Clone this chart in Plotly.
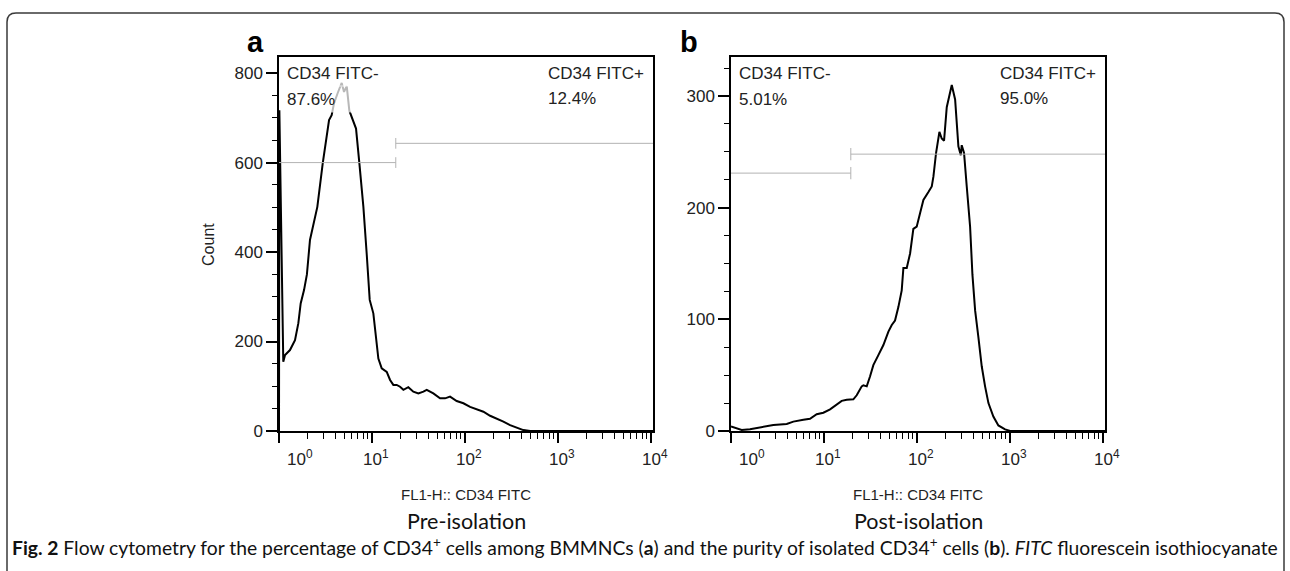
import plotly.graph_objects as go

# ------------------------------------------------------------------ data
panel_letters = ["a", "b"]
panel_titles = ["Pre-isolation", "Post-isolation"]
x_title = "FL1-H:: CD34 FITC"
y_title = "Count"
caption = ("<b>Fig. 2</b> Flow cytometry for the percentage of CD34<sup>+</sup> cells among BMMNCs "
           "(<b>a</b>) and the purity of isolated CD34<sup>+</sup> cells (<b>b</b>). "
           "<i>FITC</i> fluorescein isothiocyanate")

# FL1-H intensity given as log10 decade position, counts per channel
pre_log_fl1 = [0.0, 0.004, 0.046, 0.065, 0.118, 0.172, 0.208, 0.233, 0.269, 0.300, 0.333,
               0.412, 0.470, 0.513, 0.538, 0.566, 0.591, 0.630, 0.674, 0.699, 0.728, 0.756,
               0.800, 0.828, 0.864, 0.907, 0.943, 0.961, 0.975, 1.014, 1.043, 1.068, 1.104,
               1.158, 1.194, 1.229, 1.265, 1.301, 1.337, 1.390, 1.444, 1.498, 1.552, 1.588,
               1.659, 1.731, 1.785, 1.839, 1.910, 1.982, 2.054, 2.125, 2.197, 2.269, 2.341,
               2.412, 2.484, 2.556, 2.627, 2.700, 4.020]
pre_count = [0, 717, 155, 170, 181, 203, 241, 285, 315, 350, 427,
             501, 598, 665, 695, 706, 732, 755, 778, 758, 771, 716,
             691, 676, 598, 501, 395, 330, 293, 263, 211, 162, 140,
             132, 114, 103, 103, 99, 92, 98, 88, 84, 88, 92,
             84, 73, 73, 77, 67, 62, 54, 48, 43, 34, 28,
             21, 13, 7, 2, 0, 0]

post_log_fl1 = [0.0, 0.061, 0.115, 0.204, 0.312, 0.384, 0.455, 0.599, 0.670, 0.778, 0.849,
                0.921, 0.993, 1.065, 1.136, 1.190, 1.244, 1.315, 1.351, 1.405, 1.423, 1.459,
                1.495, 1.530, 1.584, 1.638, 1.692, 1.728, 1.763, 1.799, 1.835, 1.853, 1.889,
                1.925, 1.960, 1.996, 2.032, 2.068, 2.122, 2.158, 2.176, 2.204, 2.240, 2.265,
                2.290, 2.319, 2.373, 2.409, 2.444, 2.470, 2.480, 2.505, 2.534, 2.570, 2.595,
                2.624, 2.659, 2.695, 2.731, 2.767, 2.820, 2.874, 2.946, 3.000, 4.020]
post_count = [4, 2.4, 1, 1.5, 3.3, 4, 5.4, 6.3, 8.4, 10, 11,
              15, 16.4, 19.4, 24, 27, 28, 28.4, 32, 40, 41, 40,
              49, 59, 68, 77, 89, 95, 99, 111, 126, 146, 146,
              159, 181, 183, 195, 207, 214, 219, 228, 249, 268, 262,
              260, 290, 310, 297, 255, 247, 256, 249, 219, 183, 140,
              108, 84, 58, 40, 25, 13, 5, 1.5, 0, 0]

panels_log_fl1 = [pre_log_fl1, post_log_fl1]
panels_count = [pre_count, post_count]

gate_boundary = [18.0, 19.4]       # FL1-H value splitting - / +
gate_neg_level = [600, 231]        # height of the "-" gate marker
gate_pos_level = [643, 248]        # height of the "+" gate marker
neg_names = ["CD34 FITC-", "CD34 FITC-"]
pos_names = ["CD34 FITC+", "CD34 FITC+"]
neg_pct = ["87.6%", "5.01%"]
pos_pct = ["12.4%", "95.0%"]

y_max = [836, 335]
y_major = [200, 100]
y_minor = [50, 25]
x_log_range = [0, 4.02]

decade_vals = [1, 10, 100, 1000, 10000]
decade_text = ["10<sup>0</sup>", "10<sup>1</sup>", "10<sup>2</sup>", "10<sup>3</sup>", "10<sup>4</sup>"]
minor_vals = [m * d for d in [1, 10, 100, 1000] for m in range(2, 10)]

# ------------------------------------------------------------------ style
W, H = 1290, 571
FONT = "Liberation Sans, Arial, sans-serif"
CAP_FONT = "Lato, Open Sans, sans-serif"
GATE_COLOR = "#b3b3b3"
x_domains = [[279 / W, 653 / W], [731 / W, 1105 / W]]
y_domain = [1 - 431 / H, 1 - 57 / H]
cap_half = [12, 5.5]
letter_x = [-0.063, -0.113]

fig = go.Figure()
annotations = []

for i in range(2):
    xa = "x" if i == 0 else "x2"
    ya = "y" if i == 0 else "y2"
    xs = [10 ** v for v in panels_log_fl1[i]]
    fig.add_trace(go.Scatter(x=xs, y=panels_count[i], mode="lines",
                             line=dict(color="black", width=2), xaxis=xa, yaxis=ya,
                             showlegend=False, hoverinfo="skip"))
    xmin = 10 ** x_log_range[0]
    xmax = 10 ** x_log_range[1]
    b = gate_boundary[i]
    gn, gp, c = gate_neg_level[i], gate_pos_level[i], cap_half[i]
    gx = [xmin, b, None, b, b, None, b, xmax, None, b, b]
    gy = [gn, gn, None, gn - c, gn + c, None, gp, gp, None, gp - c, gp + c]
    fig.add_trace(go.Scatter(x=gx, y=gy, mode="lines",
                             line=dict(color=GATE_COLOR, width=1), xaxis=xa, yaxis=ya,
                             showlegend=False, hoverinfo="skip"))

    xkey = "xaxis" if i == 0 else "xaxis2"
    ykey = "yaxis" if i == 0 else "yaxis2"
    fig.update_layout(**{
        xkey: dict(type="log", range=x_log_range, domain=x_domains[i], anchor=ya,
                   automargin=False,
                   showline=True, mirror=True, linecolor="black", linewidth=1.5,
                   showgrid=False, zeroline=False, tickmode="array", tickvals=decade_vals,
                   ticks="outside", ticklen=10, tickwidth=1.5, tickcolor="black",
                   showticklabels=False,
                   minor=dict(tickmode="array", tickvals=minor_vals, ticks="outside",
                              ticklen=6, tickwidth=1.2, tickcolor="black", showgrid=False)),
        ykey: dict(range=[0, y_max[i]], domain=y_domain, anchor=xa, automargin=False,
                   showline=True, mirror=True, linecolor="black", linewidth=1.5,
                   showgrid=False, zeroline=False, tickmode="linear", tick0=0,
                   dtick=y_major[i], ticks="outside", ticklen=11, tickwidth=1.5,
                   tickcolor="black", tickfont=dict(family=FONT, size=17, color="#222"),
                   minor=dict(tickmode="linear", tick0=0, dtick=y_minor[i], ticks="outside",
                              ticklen=5, tickwidth=1.2, tickcolor="black", showgrid=False)),
    })

    xd = "x domain" if i == 0 else "x2 domain"
    yd = "y domain" if i == 0 else "y2 domain"
    # gate labels
    for j, txt in enumerate([neg_names[i], neg_pct[i]]):
        annotations.append(dict(xref=xd, yref=yd, x=0.019, y=[0.957, 0.888][j],
                                xanchor="left", yanchor="middle", text=txt, showarrow=False,
                                align="left", width=95, height=26, borderpad=0,
                                bgcolor="rgba(255,255,255,0.72)",
                                font=dict(family=FONT, size=17, color="#222")))
    for j, txt in enumerate([pos_names[i], pos_pct[i]]):
        annotations.append(dict(xref=xd, yref=yd, x=0.715, y=[0.957, 0.888][j],
                                xanchor="left", yanchor="middle", text=txt, showarrow=False,
                                align="left", font=dict(family=FONT, size=17, color="#222")))
    # decade labels
    for k, (v, t) in enumerate(zip(decade_vals, decade_text)):
        annotations.append(dict(xref=xa, yref=yd, x=x_log_range[0] + k, y=0,
                                xanchor="center", yanchor="top", yshift=-14,
                                xshift=21 if k == 0 else 4,
                                text=t, showarrow=False,
                                font=dict(family=FONT, size=17, color="#222")))
    # axis title and panel title
    annotations.append(dict(xref=xd, yref="paper", x=0.5, y=1 - 494 / H, xanchor="center",
                            yanchor="middle", text=x_title, showarrow=False,
                            font=dict(family=FONT, size=15, color="#222")))
    annotations.append(dict(xref=xd, yref="paper", x=0.5, y=1 - 521 / H, xanchor="center",
                            yanchor="middle", text=panel_titles[i], showarrow=False,
                            font=dict(family=CAP_FONT, size=21.5, color="#111")))
    # panel letter
    annotations.append(dict(xref=xd, yref="paper", x=letter_x[i], y=1 - 42 / H,
                            xanchor="center", yanchor="middle",
                            text="<b>" + panel_letters[i] + "</b>",
                            showarrow=False, font=dict(family=FONT, size=29, color="black")))

annotations.append(dict(xref="x domain", yref="y domain", x=-0.19, y=0.5, xanchor="center",
                        yanchor="middle", text=y_title, textangle=-90, showarrow=False,
                        font=dict(family=FONT, size=16, color="#222")))
annotations.append(dict(xref="paper", yref="paper", x=10 / W, y=1 - 546 / H, xanchor="left",
                        yanchor="middle", text=caption, showarrow=False,
                        font=dict(family=CAP_FONT, size=19.3, color="#111")))

# outer rounded frame (open at the bottom)
def px(x):
    return x / W

def py(y):
    return 1 - y / H

x0, x1, yt, yb, r = 7, 1284, 13, 580, 9
path = (f"M {px(x0)},{py(yb)} L {px(x0)},{py(yt + r)} Q {px(x0)},{py(yt)} {px(x0 + r)},{py(yt)} "
        f"L {px(x1 - r)},{py(yt)} Q {px(x1)},{py(yt)} {px(x1)},{py(yt + r)} L {px(x1)},{py(yb)}")
fig.add_shape(type="path", path=path, xref="paper", yref="paper",
              line=dict(color="#3a3a3a", width=1.5))

fig.update_layout(width=W, height=H, margin=dict(l=0, r=0, t=0, b=0, autoexpand=False),
                  paper_bgcolor="white", plot_bgcolor="white",
                  annotations=annotations, showlegend=False)

fig.write_html("out.html", config={"displayModeBar": False},
               post_script="document.body.style.margin='0';document.body.style.overflow='hidden';")
